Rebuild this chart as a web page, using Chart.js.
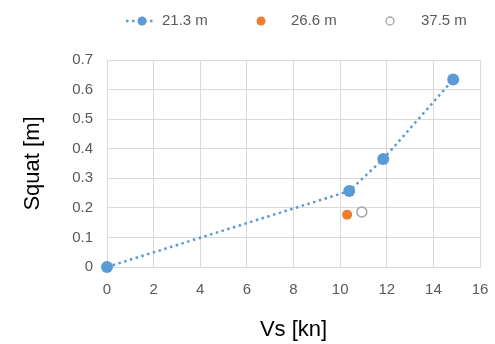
<!DOCTYPE html>
<html>
<head>
<meta charset="utf-8">
<script src="https://cdn.jsdelivr.net/npm/chart.js@4/dist/chart.umd.min.js"></script>
<style>
  html, body { margin: 0; padding: 0; background: #fff; }
  #wrap { width: 495px; height: 344px; }
</style>
</head>
<body>
<div id="wrap"><canvas id="c" width="495" height="344"></canvas></div>
<script>
// Squat vs ship speed for three water depths
const seriesLabels = ['21.3 m', '26.6 m', '37.5 m'];
const speed213 = [0, 10.39, 11.85, 14.85];
const squat213 = [0, 0.257, 0.365, 0.634];
const speed266 = [10.3];
const squat266 = [0.177];
const speed375 = [10.93];
const squat375 = [0.186];
const xTicks = [0, 2, 4, 6, 8, 10, 12, 14, 16];
const yTicks = [0, 0.1, 0.2, 0.3, 0.4, 0.5, 0.6, 0.7];

const pts = (xs, ys) => xs.map((x, i) => ({ x: x, y: ys[i] }));

const BLUE = '#5B9BD5', ORANGE = '#ED7D31', GREY = '#A5A5A5';
const FONT = "'Liberation Sans', Arial, sans-serif";

// Legend drawn across the top, centred over the chart
const topLegend = {
  id: 'topLegend',
  afterDraw(chart) {
    const ctx = chart.ctx;
    ctx.save();
    ctx.font = '15px ' + FONT;
    ctx.fillStyle = '#595959';
    ctx.textBaseline = 'middle';
    const y = 21;
    // item 1: dotted line with marker
    ctx.strokeStyle = BLUE;
    ctx.lineWidth = 2.5;
    ctx.setLineDash([2.5, 3.5]);
    ctx.beginPath(); ctx.moveTo(126, y); ctx.lineTo(156, y); ctx.stroke();
    ctx.setLineDash([]);
    ctx.fillStyle = BLUE;
    ctx.beginPath(); ctx.arc(142, y, 4.5, 0, Math.PI * 2); ctx.fill();
    ctx.fillStyle = '#595959';
    ctx.fillText(chart.data.datasets[0].label, 162, y);
    // item 2: filled orange dot
    ctx.fillStyle = ORANGE;
    ctx.beginPath(); ctx.arc(261, y, 4.5, 0, Math.PI * 2); ctx.fill();
    ctx.fillStyle = '#595959';
    ctx.fillText(chart.data.datasets[1].label, 291, y);
    // item 3: open grey circle
    ctx.strokeStyle = GREY;
    ctx.lineWidth = 1.3;
    ctx.beginPath(); ctx.arc(390, y, 4, 0, Math.PI * 2); ctx.stroke();
    ctx.fillText(chart.data.datasets[2].label, 421, y);
    ctx.restore();
  }
};

new Chart(document.getElementById('c'), {
  type: 'scatter',
  data: {
    datasets: [
      {
        label: seriesLabels[0],
        data: pts(speed213, squat213),
        showLine: true,
        borderColor: BLUE,
        backgroundColor: BLUE,
        borderWidth: 2.5,
        borderDash: [2.5, 3.5],
        pointRadius: 6,
        pointHoverRadius: 6,
        pointBorderWidth: 0,
        clip: false
      },
      {
        label: seriesLabels[1],
        data: pts(speed266, squat266),
        backgroundColor: ORANGE,
        borderColor: ORANGE,
        pointRadius: 5,
        pointBorderWidth: 0,
        clip: false
      },
      {
        label: seriesLabels[2],
        data: pts(speed375, squat375),
        backgroundColor: 'rgba(255,255,255,0)',
        borderColor: GREY,
        pointRadius: 5,
        pointBorderWidth: 1.5,
        clip: false
      }
    ]
  },
  options: {
    responsive: false,
    animation: false,
    devicePixelRatio: 1,
    layout: { padding: { top: 60, right: 15, bottom: 0, left: 0 } },
    plugins: { legend: { display: false }, tooltip: { enabled: false } },
    scales: {
      x: {
        type: 'linear',
        min: 0, max: 16,
        afterBuildTicks(s) { s.ticks = xTicks.map(v => ({ value: v })); },
        afterFit(s) { s.height = 77; s.paddingLeft = 0; s.paddingRight = 0; },
        ticks: { color: '#595959', font: { size: 15, family: FONT }, padding: 14, maxRotation: 0 },
        grid: { color: '#D9D9D9', lineWidth: 1, drawTicks: false },
        border: { color: '#D9D9D9', width: 1 },
        title: { display: true, text: 'Vs [kn]', color: '#000', font: { size: 22, family: FONT }, padding: { top: 0, bottom: 1 } }
      },
      y: {
        type: 'linear',
        min: 0, max: 0.7,
        afterBuildTicks(s) { s.ticks = yTicks.map(v => ({ value: v })); },
        afterFit(s) { s.width = 107; s.paddingTop = 0; s.paddingBottom = 0; },
        ticks: { color: '#595959', font: { size: 15, family: FONT }, padding: 14,
                 callback: v => String(Math.round(v * 10) / 10) },
        grid: { color: '#D9D9D9', lineWidth: 1, drawTicks: false },
        border: { color: '#D9D9D9', width: 1 },
        title: { display: true, text: 'Squat [m]', color: '#000', font: { size: 22, family: FONT }, padding: { top: 20, bottom: 0 } }
      }
    }
  },
  plugins: [topLegend]
});
</script>
</body>
</html>
